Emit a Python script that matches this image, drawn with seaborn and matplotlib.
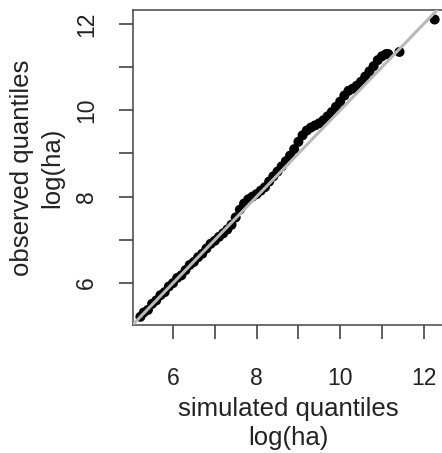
import matplotlib
matplotlib.use('Agg')
import matplotlib.pyplot as plt
import seaborn as sns
import pandas as pd

# quantile pairs (log(ha))
sim_q = [5.22, 5.3, 5.4, 5.5, 5.6, 5.7, 5.8, 5.9, 6.0, 6.1, 6.2, 6.3, 6.4, 6.5,
         6.6, 6.7, 6.8, 6.9, 7.0, 7.1, 7.2, 7.3, 7.4, 7.5, 7.6, 7.7, 7.8, 7.9,
         8.0, 8.1, 8.2, 8.3, 8.4, 8.5, 8.6, 8.7, 8.8, 8.9, 9.0, 9.1, 9.2, 9.3,
         9.4, 9.5, 9.6, 9.7, 9.8, 9.9, 10.0, 10.1, 10.2, 10.3, 10.4, 10.5,
         10.6, 10.7, 10.8, 10.9, 11.0, 11.1, 11.15, 11.42, 12.26]
obs_q = [5.22, 5.32, 5.38, 5.52, 5.6, 5.72, 5.79, 5.92, 6.0, 6.12, 6.18, 6.3,
         6.42, 6.49, 6.6, 6.68, 6.8, 6.91, 6.98, 7.07, 7.15, 7.24, 7.35, 7.52,
         7.7, 7.84, 7.94, 8.0, 8.06, 8.14, 8.22, 8.35, 8.47, 8.58, 8.7, 8.82,
         8.95, 9.1, 9.27, 9.42, 9.53, 9.6, 9.65, 9.7, 9.77, 9.86, 9.96, 10.08,
         10.2, 10.34, 10.45, 10.5, 10.57, 10.66, 10.78, 10.9, 11.02, 11.16,
         11.25, 11.3, 11.3, 11.35, 12.1]

x_ticks = [6, 7, 8, 9, 10, 11, 12]
x_ticklabels = ['6', '', '8', '', '10', '', '12']
y_ticks = [6, 7, 8, 9, 10, 11, 12]
y_ticklabels = ['6', '', '8', '', '10', '', '12']

df = pd.DataFrame({'sim': sim_q, 'obs': obs_q})

sns.set_style('ticks')
plt.rcParams['font.family'] = ['Liberation Sans', 'DejaVu Sans']

fig = plt.figure(figsize=(4.42, 4.53), dpi=100)
ax = fig.add_axes([133 / 442, 1 - 325 / 453, 310 / 442, 315 / 453])

sns.scatterplot(data=df, x='sim', y='obs', color='black', s=52,
                edgecolor='none', ax=ax, zorder=2)
ax.axline((5, 5), slope=1, color='#b8b8b8', lw=2.2, zorder=3)

ax.set_xlim(5.043, 12.46)
ax.set_ylim(5.03, 12.32)

ax.set_xticks(x_ticks)
ax.set_xticklabels(x_ticklabels)
ax.set_yticks(y_ticks)
ax.set_yticklabels(y_ticklabels, rotation=90, va='center')

ax.tick_params(axis='both', length=10, width=1.1, color='#333333',
               labelsize=16.5, labelcolor='#222222')
ax.tick_params(axis='x', pad=20)
ax.tick_params(axis='y', pad=15)

for sp in ax.spines.values():
    sp.set_linewidth(1.1)
    sp.set_color('#444444')

ax.set_xlabel('simulated quantiles\nlog(ha)', fontsize=18.5, color='#222222',
              linespacing=1.3, labelpad=5)
ax.set_ylabel('observed quantiles\nlog(ha)', fontsize=18.5, color='#222222',
              linespacing=1.35)
ax.yaxis.set_label_coords(-0.222, 0.5)

fig.savefig('out.png', dpi=100)
